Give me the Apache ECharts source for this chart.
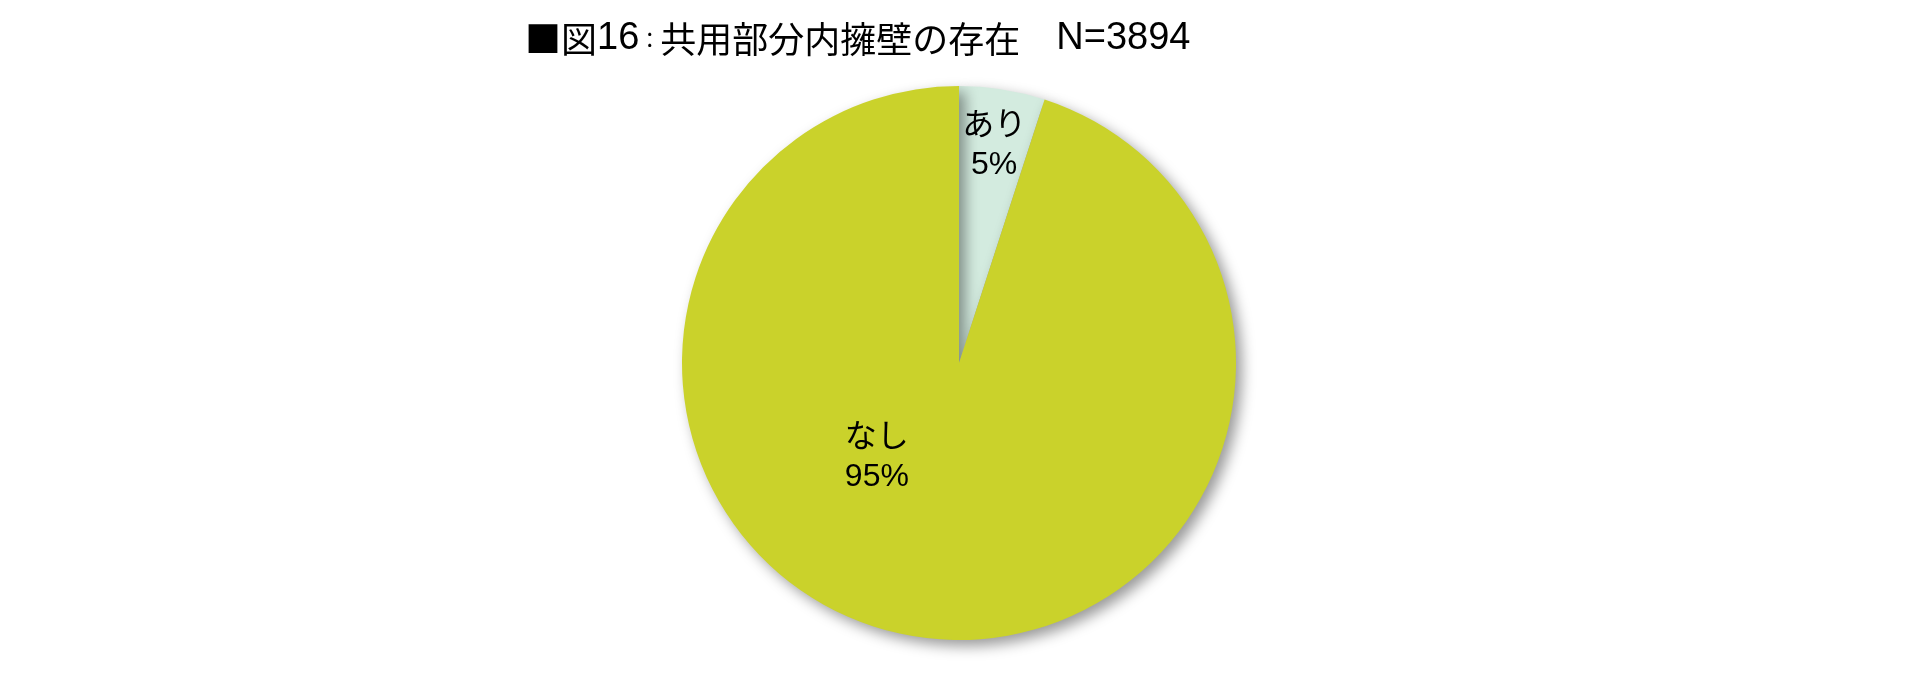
<!DOCTYPE html>
<html><head><meta charset="utf-8">
<script src="https://cdn.jsdelivr.net/npm/echarts@6/dist/echarts.min.js"></script>
<style>html,body{margin:0;padding:0;background:#fff}#c{width:1920px;height:674px}</style>
</head><body><div id="c"></div>
<script>
const categories = ['あり', 'なし'];
const values = [5, 95];
const colors = ['#D3EBDF', '#CAD22B'];
// title text split by script: [style, text]
const titleParts = [['c', '■図'], ['l', '16'], ['k', '：'], ['c', '共用部分内擁壁の存在　'], ['l', 'N=3894']];
const labelShift = [[13, -78], [-60, -45]];

const chart = echarts.init(document.getElementById('c'));
chart.setOption({
  animation: false,
  backgroundColor: '#fff',
  title: {
    text: titleParts.map(p => '{' + p[0] + '|' + p[1] + '}').join(''),
    left: 520, top: 12,
    textStyle: {
      rich: {
        c: { fontFamily: 'Noto Sans CJK JP', fontSize: 36, fontWeight: 'normal', color: '#000', lineHeight: 44 },
        l: { fontFamily: 'Liberation Sans', fontSize: 38, fontWeight: 'normal', color: '#000', lineHeight: 44 },
        k: { fontFamily: 'Noto Sans CJK JP', fontSize: 21, fontWeight: 'normal', color: '#000', lineHeight: 44 }
      }
    }
  },
  series: [{
    type: 'pie',
    center: [959, 363],
    radius: 277,
    startAngle: 90,
    clockwise: true,
    data: categories.map((c, i) => ({ name: c, value: values[i], itemStyle: { color: colors[i] } })),
    itemStyle: { borderWidth: 0, shadowBlur: 14, shadowOffsetX: 6, shadowOffsetY: 6, shadowColor: 'rgba(0,0,0,0.4)' },
    label: {
      show: true, position: 'inside',
      formatter: p => p.name + '\n' + Math.round(p.percent) + '%',
      fontFamily: 'Liberation Sans, Noto Sans CJK JP', fontSize: 32, lineHeight: 39, color: '#000'
    },
    labelLayout: p => ({ dx: labelShift[p.dataIndex][0], dy: labelShift[p.dataIndex][1] }),
    emphasis: { disabled: true }
  }]
});
</script></body></html>
